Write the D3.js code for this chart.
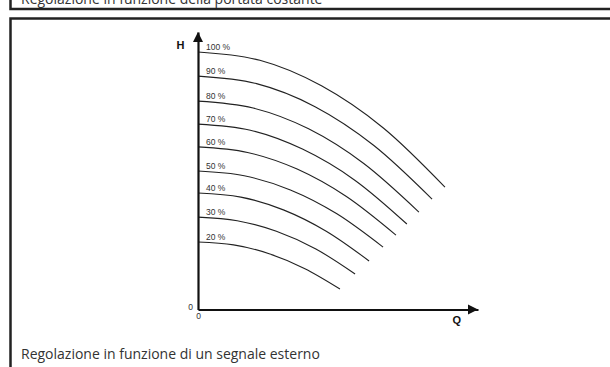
<!DOCTYPE html>
<html>
<head>
<meta charset="utf-8">
<script src="https://cdn.jsdelivr.net/npm/d3@7"></script>
<style>
  body { margin: 0; background: #fff; }
  svg { display: block; }
  .lbl { font-family: "Liberation Sans", Arial, sans-serif; font-size: 8.5px; fill: #333; }
  .cap { font-family: "Open Sans", sans-serif; font-size: 14px; fill: #333; }
</style>
</head>
<body>
<div id="chart"></div>
<script>
// curve labels (pump speed) and points: Q (0-100), H (0-100)
const speeds = ["100 %", "90 %", "80 %", "70 %", "60 %", "50 %", "40 %", "30 %", "20 %"];
const qValues = [
  [0, 22.1, 44.1, 66.2, 88.2],
  [0, 20.9, 41.8, 62.7, 83.6],
  [0, 19.7, 39.5, 59.2, 78.9],
  [0, 18.7, 37.3, 56.0, 74.6],
  [0, 17.7, 35.4, 53.0, 70.7],
  [0, 16.5, 33.0, 49.6, 66.1],
  [0, 15.3, 30.5, 45.8, 61.1],
  [0, 14.0, 28.0, 42.1, 56.1],
  [0, 12.7, 25.4, 38.0, 50.7]
];
const hValues = [
  [92.8, 89.8, 80.6, 65.4, 44.1],
  [84.1, 81.4, 73.1, 59.2, 39.8],
  [75.1, 72.6, 65.1, 52.6, 35.1],
  [66.8, 64.6, 57.8, 46.6, 30.8],
  [58.6, 56.6, 50.6, 40.7, 26.8],
  [49.9, 48.2, 43.1, 34.5, 22.5],
  [42.0, 40.5, 35.9, 28.2, 17.5],
  [33.3, 32.0, 28.2, 21.8, 12.8],
  [24.3, 23.3, 20.1, 14.8, 7.4]
];
const axisTicks = [0];
const topCaption = "Regolazione in funzione della portata costante";
const bottomCaption = "Regolazione in funzione di un segnale esterno";

const W = 610, H = 367;

const svg = d3.select("#chart")
    .append("svg")
    .attr("width", W)
    .attr("height", H);

// boxes
svg.append("path")
    .attr("d", "M10.5,-5 V9 H620")
    .attr("fill", "none")
    .attr("stroke", "#222")
    .attr("stroke-width", 2.5);
svg.append("path")
    .attr("d", "M10.5,380 V18.5 H620")
    .attr("fill", "none")
    .attr("stroke", "#222")
    .attr("stroke-width", 2.5);

svg.append("text")
    .attr("class", "cap")
    .attr("x", 21)
    .attr("y", 3.5)
    .text(topCaption);

svg.append("text")
    .attr("class", "cap")
    .attr("x", 21)
    .attr("y", 359)
    .text(bottomCaption);

const x = d3.scaleLinear().domain([0, 100]).range([198, 478]);
const y = d3.scaleLinear().domain([0, 100]).range([309.5, 32]);

// curves
const line = d3.line()
    .x(d => x(d[0]))
    .y(d => y(d[1]))
    .curve(d3.curveMonotoneX);

const curves = speeds.map((s, i) => qValues[i].map((q, j) => [q, hValues[i][j]]));

svg.append("g")
    .selectAll("path")
    .data(curves)
    .enter()
    .append("path")
    .attr("d", line)
    .attr("fill", "none")
    .attr("stroke", "#222")
    .attr("stroke-width", 1.1);

svg.append("g")
    .selectAll("text")
    .data(speeds)
    .enter()
    .append("text")
    .attr("class", "lbl")
    .attr("x", x(0) + 8)
    .attr("y", (d, i) => y(hValues[i][0]) - 2)
    .text(d => d);

// X-Axis
const gx = svg.append("g")
    .attr("transform", `translate(0, ${y(0)})`)
    .call(d3.axisBottom(x).tickValues(axisTicks).tickSize(0).tickPadding(3));

// Y-Axis
const gy = svg.append("g")
    .attr("transform", `translate(${x(0)}, 0)`)
    .call(d3.axisLeft(y).tickValues(axisTicks).tickSize(0).tickPadding(5));

[gx, gy].forEach(g => {
    g.select(".domain").attr("stroke", "#111").attr("stroke-width", 2.2);
    g.selectAll("text")
        .attr("font-family", "'Liberation Sans', Arial, sans-serif")
        .attr("font-size", "8.5px")
        .attr("fill", "#333");
});
gy.selectAll("text").attr("dy", "-0.05em");

// arrow heads
svg.append("path")
    .attr("d", `M${x(0)},${y(100)} L${x(0) - 5},${y(100) + 10} L${x(0) + 5},${y(100) + 10} Z`)
    .attr("fill", "#111");
svg.append("path")
    .attr("d", `M${x(100)},${y(0)} L${x(100) - 10},${y(0) - 5} L${x(100) - 10},${y(0) + 5} Z`)
    .attr("fill", "#111");

// axis names
svg.append("text")
    .attr("x", 176.5)
    .attr("y", 48.5)
    .attr("font-family", "'Liberation Sans', Arial, sans-serif")
    .attr("font-weight", "bold")
    .attr("font-size", "11px")
    .attr("fill", "#111")
    .text("H");
svg.append("text")
    .attr("x", 452.5)
    .attr("y", 323.5)
    .attr("font-family", "'Liberation Sans', Arial, sans-serif")
    .attr("font-weight", "bold")
    .attr("font-size", "11px")
    .attr("fill", "#111")
    .text("Q");
</script>
</body>
</html>
